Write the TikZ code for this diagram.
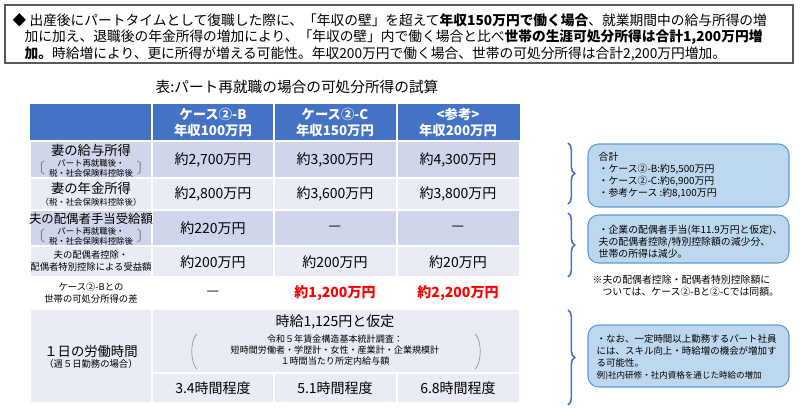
\documentclass[tikz,border=0pt]{standalone}
\usepackage{fontspec}
\setmainfont{Noto Sans CJK JP}
\usetikzlibrary{decorations.pathreplacing}
\definecolor{hdblue}{HTML}{4472C4}
\definecolor{rowdark}{HTML}{CFD5EA}
\definecolor{rowlight}{HTML}{E9EBF5}
\definecolor{notefill}{HTML}{BDD7EE}
\definecolor{noteline}{HTML}{5B9BD5}
\tikzset{
  cell/.style={draw=white, line width=1.5},
  hd/.style={text=white, font=\fontsize{10}{12}\selectfont\bfseries, align=center},
  lab/.style={font=\fontsize{10}{11}\selectfont, align=center},
  sublab/.style={font=\fontsize{6.3}{7.3}\selectfont, align=center},
  val/.style={font=\fontsize{10.5}{12}\selectfont},
  note/.style={draw=noteline, fill=notefill, rounded corners=8, line width=0.8},
  notetext/.style={font=\fontsize{7.4}{9}\selectfont, align=left, anchor=north west},
  brc/.style={draw=hdblue, line width=1.2, decorate, decoration={brace, amplitude=5}}
}
\begin{document}
\begin{tikzpicture}[x=0.75pt, y=-0.75pt]
  \useasboundingbox (0,0) rectangle (800,414);
  % summary box
  \draw[gray!70!black, line width=0.8] (5,5) rectangle (793,63);
  \node[anchor=west, font=\fontsize{10.3}{12}\selectfont] (s1) at (8,20) {◆ 出産後にパートタイムとして復職した際に、「年収の壁」を超えて\textbf{年収150万円で働く場合}、就業期間中の給与所得の増};
  \node[anchor=west, font=\fontsize{10.3}{12}\selectfont] (s2) at (20,37) {加に加え、退職後の年金所得の増加により、「年収の壁」内で働く場合と比べ\textbf{世帯の生涯可処分所得は合計1,200万円増}};
  \node[anchor=west, font=\fontsize{10.3}{12}\selectfont] (s3) at (20,54) {\textbf{加。}時給増により、更に所得が増える可能性。年収200万円で働く場合、世帯の可処分所得は合計2,200万円増加。};
  \node[font=\fontsize{11}{13}\selectfont] (title) at (297,87) {表:パート再就職の場合の可処分所得の試算};

  % table cells
  \fill[hdblue] (30,104) rectangle (520,140);
  \foreach \x in {152,274,397} \draw[white, line width=1] (\x,104) -- (\x,140);
  \foreach \ya/\yb/\c in {141/178/rowdark, 178/210/rowlight, 210/246/rowdark, 246/277/rowlight}
    \foreach \xa/\xb in {30/152,152/274,274/397,397/520}
      \filldraw[cell, fill=\c] (\xa,\ya) rectangle (\xb,\yb);
  \filldraw[cell, fill=rowlight] (30,309) rectangle (152,403);
  \filldraw[cell, fill=rowlight] (152,309) rectangle (520,373);
  \foreach \xa/\xb in {152/274,274/397,397/520}
    \filldraw[cell, fill=rowlight] (\xa,373) rectangle (\xb,403);

  % header
  \node[hd] (hB) at (213,122) {ケース②-B\\年収100万円};
  \node[hd] (hC) at (335,122) {ケース②-C\\年収150万円};
  \node[hd] (hR) at (458,122) {<参考>\\年収200万円};

  % row labels
  \node[lab] (l1) at (91,150) {妻の給与所得};
  \node[sublab] (l1s) at (91,168) {パート再就職後・\\税・社会保険料控除後};
  \node[font=\fontsize{11}{11}\selectfont, gray] (l1a) at (38,168) {〔};
  \node[font=\fontsize{11}{11}\selectfont, gray] (l1b) at (144,168) {〕};
  \node[lab] (l2) at (91,188) {妻の年金所得};
  \node[sublab] (l2s) at (91,202) {（税・社会保険料控除後）};
  \node[lab, font=\fontsize{9.3}{11}\selectfont] (l3) at (91,219) {夫の配偶者手当受給額};
  \node[sublab] (l3s) at (91,236) {パート再就職後・\\税・社会保険料控除後};
  \node[font=\fontsize{11}{11}\selectfont, gray] (l3a) at (38,236) {〔};
  \node[font=\fontsize{11}{11}\selectfont, gray] (l3b) at (144,236) {〕};
  \node[font=\fontsize{7}{9}\selectfont, align=center] (l4) at (91,261) {夫の配偶者控除・\\配偶者特別控除による受益額};
  \node[font=\fontsize{7}{9}\selectfont, align=center] (l5) at (91,293) {ケース②-Bとの\\世帯の可処分所得の差};
  \node[lab] (l6) at (91,351) {１日の労働時間};
  \node[sublab, font=\fontsize{7}{8}\selectfont] (l6s) at (91,364) {（週５日勤務の場合）};

  % values
  \node[val] (v11) at (213,160) {約2,700万円};
  \node[val] (v12) at (335,160) {約3,300万円};
  \node[val] (v13) at (458,160) {約4,300万円};
  \node[val] (v21) at (213,194) {約2,800万円};
  \node[val] (v22) at (335,194) {約3,600万円};
  \node[val] (v23) at (458,194) {約3,800万円};
  \node[val] (v31) at (213,228) {約220万円};
  \node[val] (v32) at (335,228) {—};
  \node[val] (v33) at (458,228) {—};
  \node[val] (v41) at (213,262) {約200万円};
  \node[val] (v42) at (335,262) {約200万円};
  \node[val] (v43) at (458,262) {約20万円};
  \node[val] (v51) at (213,293) {—};
  \node[val, red, font=\fontsize{10.5}{12}\selectfont\bfseries] (v52) at (335,293) {約1,200万円};
  \node[val, red, font=\fontsize{10.5}{12}\selectfont\bfseries] (v53) at (458,293) {約2,200万円};

  % wage row
  \node[val] (wage) at (335,322) {時給1,125円と仮定};
  \node[font=\fontsize{6.8}{8.2}\selectfont, align=center] (wsrc) at (335,350) {令和５年賃金構造基本統計調査：\\短時間労働者・学歴計・女性・産業計・企業規模計\\１時間当たり所定内給与額};
  \draw[gray] (197,334) .. controls (190,340) and (190,363) .. (197,369);
  \draw[gray] (475,334) .. controls (482,340) and (482,363) .. (475,369);
  \node[val] (h1) at (213,388) {3.4時間程度};
  \node[val] (h2) at (335,388) {5.1時間程度};
  \node[val] (h3) at (458,388) {6.8時間程度};

  % braces and notes
  \draw[brc] (568,143) -- (568,204);
  \draw[brc] (568,213) -- (568,277);
  \draw[brc] (568,310) -- (568,405);
  \draw[note] (588,144) rectangle (789,207);
  \node[notetext] (n1) at (594,148) {合計\\・ケース②-B:約5,500万円\\・ケース②-C:約6,900万円\\・参考ケース :約8,100万円};
  \draw[note] (588,215) rectangle (789,263);
  \node[notetext] (n2) at (594,220) {・企業の配偶者手当(年11.9万円と仮定)、\\夫の配偶者控除/特別控除額の減少分、\\世帯の所得は減少。};
  \node[notetext] (n3) at (588,270) {※夫の配偶者控除・配偶者特別控除額に\\\hspace*{1em}ついては、ケース②-Bと②-Cでは同額。};
  \draw[note] (588,325) rectangle (789,387);
  \node[notetext, font=\fontsize{7.1}{9}\selectfont] (n4) at (592,330) {・なお、一定時間以上勤務するパート社員\\には、スキル向上・時給増の機会が増加す\\る可能性。\\{\fontsize{6.4}{8}\selectfont 例)社内研修・社内資格を通じた時給の増加}};
\end{tikzpicture}
\end{document}
